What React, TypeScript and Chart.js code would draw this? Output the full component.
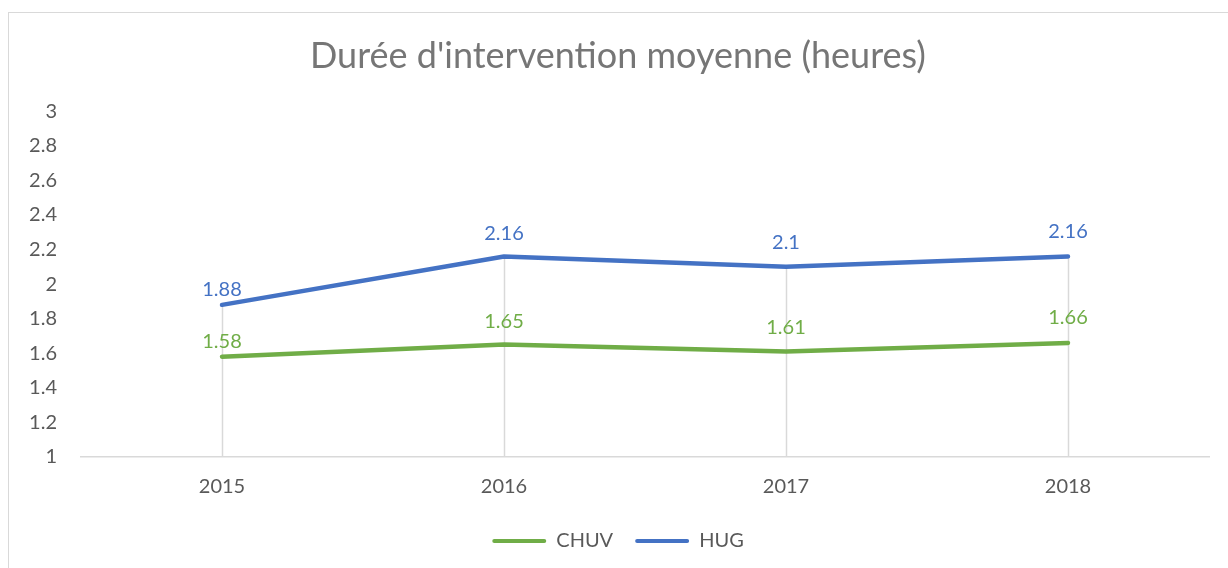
import React, { useEffect, useRef } from "react";
import { Chart, registerables } from "chart.js";

Chart.register(...registerables);

const years = ["2015", "2016", "2017", "2018"];
const chuv = [1.58, 1.65, 1.61, 1.66];
const hug = [1.88, 2.16, 2.1, 2.16];
const seriesNames = ["CHUV", "HUG"];
const seriesColors = ["#70AD47", "#4472C4"];
const chartTitle = "Durée d'intervention moyenne (heures)";
const yMin = 1;
const yMax = 3;
const yStep = 0.2;
// distance (px) of each category's data labels above their point
const labelGap = [15, 23, 24, 25];

const FONT = "Lato, 'Open Sans', sans-serif";

const dropLines = {
  id: "dropLines",
  beforeDatasetsDraw(chart: any) {
    const { ctx, chartArea, scales } = chart;
    const x = scales.x;
    const y = scales.y;
    ctx.save();
    ctx.strokeStyle = "#d9d9d9";
    ctx.lineWidth = 1.5;
    years.forEach((_, i) => {
      const top = Math.max(...chart.data.datasets.map((d: any) => d.data[i]));
      const px = Math.round(x.getPixelForValue(i)) + 0.5;
      ctx.beginPath();
      ctx.moveTo(px, y.getPixelForValue(top));
      ctx.lineTo(px, chartArea.bottom);
      ctx.stroke();
    });
    ctx.restore();
  },
};

const dataLabels = {
  id: "dataLabels",
  afterDatasetsDraw(chart: any) {
    const { ctx } = chart;
    ctx.save();
    ctx.font = `20px ${FONT}`;
    ctx.textAlign = "center";
    ctx.textBaseline = "middle";
    chart.data.datasets.forEach((ds: any, di: number) => {
      const meta = chart.getDatasetMeta(di);
      ctx.fillStyle = ds.borderColor;
      meta.data.forEach((pt: any, i: number) => {
        ctx.fillText(String(ds.data[i]), pt.x, pt.y - labelGap[i]);
      });
    });
    ctx.restore();
  },
};

export default function App() {
  const ref = useRef<HTMLCanvasElement>(null);

  useEffect(() => {
    if (!ref.current) return;
    const chart = new Chart(ref.current, {
      type: "line",
      data: {
        labels: years,
        datasets: [
          {
            label: seriesNames[0],
            data: chuv,
            borderColor: seriesColors[0],
            backgroundColor: seriesColors[0],
            borderWidth: 4.5,
            pointRadius: 0,
            pointHoverRadius: 0,
            tension: 0,
            borderCapStyle: "round",
            borderJoinStyle: "round",
          },
          {
            label: seriesNames[1],
            data: hug,
            borderColor: seriesColors[1],
            backgroundColor: seriesColors[1],
            borderWidth: 4.5,
            pointRadius: 0,
            pointHoverRadius: 0,
            tension: 0,
            borderCapStyle: "round",
            borderJoinStyle: "round",
          },
        ],
      },
      options: {
        animation: false,
        responsive: false,
        maintainAspectRatio: false,
        layout: { padding: { left: 18, right: 19, top: 0, bottom: 7 } },
        plugins: {
          title: {
            display: true,
            text: chartTitle,
            color: "#767676",
            font: { family: FONT, size: 36, weight: "normal" },
            padding: { top: 22, bottom: 33 },
          },
          legend: {
            display: true,
            position: "bottom",
            labels: {
              color: "#595959",
              font: { family: FONT, size: 20 },
              boxWidth: 54,
              boxHeight: 4,
              padding: 22,
              useBorderRadius: true,
              borderRadius: 2,
              generateLabels: (c: any) =>
                c.data.datasets.map((d: any, i: number) => ({
                  text: d.label,
                  fillStyle: d.borderColor,
                  strokeStyle: d.borderColor,
                  lineWidth: 0,
                  borderRadius: 2,
                  hidden: false,
                  datasetIndex: i,
                  fontColor: "#595959",
                })),
            },
          },
          tooltip: { enabled: false },
        },
        scales: {
          x: {
            offset: true,
            grid: { display: false, drawTicks: false },
            border: { display: true, color: "#d9d9d9", width: 1.5 },
            ticks: {
              color: "#595959",
              font: { family: FONT, size: 20 },
              padding: 18,
              maxRotation: 0,
            },
            afterFit: (s: any) => {
              s.height = 52;
            },
          },
          y: {
            min: yMin,
            max: yMax,
            grid: { display: false, drawTicks: false },
            border: { display: false },
            ticks: {
              stepSize: yStep,
              color: "#595959",
              font: { family: FONT, size: 20 },
              padding: 24,
              callback: (v: any) => String(Number(Number(v).toFixed(1))),
            },
            afterFit: (s: any) => {
              s.width = 54;
            },
          },
        },
      },
      plugins: [dropLines, dataLabels],
    });
    return () => chart.destroy();
  }, []);

  return (
    <div
      style={{
        position: "absolute",
        left: 8,
        top: 12,
        width: 1220,
        height: 556,
        boxSizing: "border-box",
        borderLeft: "1px solid #d9d9d9",
        borderTop: "1px solid #d9d9d9",
        background: "#fff",
        overflow: "hidden",
      }}
    >
      <canvas ref={ref} width={1219} height={555} style={{ display: "block" }} />
    </div>
  );
}
